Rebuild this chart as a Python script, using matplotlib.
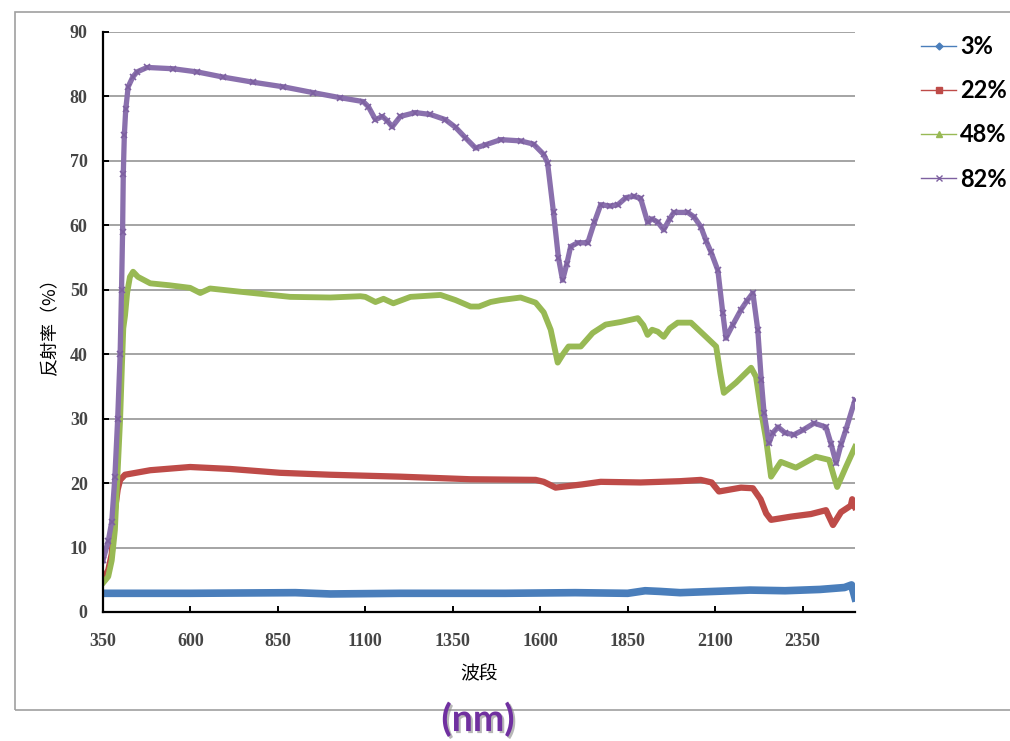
import matplotlib
matplotlib.use("Agg")
import matplotlib.pyplot as plt
import matplotlib.patheffects as pe
from matplotlib.lines import Line2D
from matplotlib.patches import Rectangle

plt.rcParams['font.family'] = ['Noto Sans CJK SC', 'DejaVu Sans']

# 3%
wl_3 = [350, 600, 900, 1000, 1200, 1500, 1700, 1850, 1900, 1940, 2000, 2100,
        2200, 2300, 2400, 2470, 2490, 2500]
r_3 = [2.9, 2.9, 3.0, 2.8, 2.9, 2.9, 3.0, 2.9, 3.3, 3.2, 3.0, 3.2,
       3.4, 3.3, 3.5, 3.8, 4.2, 2.2]

# 22%
wl_22 = [350, 365, 375, 384, 392, 399, 413, 485, 599, 713, 856, 999, 1200,
         1400, 1587, 1610, 1644, 1673, 1720, 1773, 1887, 2000, 2059, 2090,
         2111, 2174, 2208, 2230, 2246, 2260, 2317, 2374, 2417, 2437, 2460,
         2488, 2492, 2500]
r_22 = [5, 6.5, 9, 15.8, 19, 20.5, 21.3, 22, 22.5, 22.2, 21.6, 21.3, 21,
        20.6, 20.5, 20.2, 19.3, 19.5, 19.8, 20.2, 20.1, 20.3, 20.5, 20.1,
        18.7, 19.3, 19.2, 17.5, 15.3, 14.3, 14.8, 15.2, 15.8, 13.5, 15.5,
        16.5, 17.5, 16.3]

# 48%
wl_48 = [350, 365, 375, 384, 392, 399, 404, 408, 413, 419, 427, 436, 450,
         485, 540, 599, 628, 656, 742, 885, 1000, 1086, 1100, 1129, 1152,
         1180, 1229, 1315, 1358, 1401, 1425, 1458, 1487, 1544, 1587, 1610,
         1630, 1650, 1665, 1681, 1716, 1750, 1787, 1830, 1879, 1895, 1907,
         1920, 1936, 1953, 1970, 1993, 2031, 2074, 2103, 2115, 2125, 2160,
         2203, 2217, 2232, 2246, 2260, 2288, 2331, 2388, 2426, 2440, 2449,
         2474, 2500]
r_48 = [4.5, 5.5, 8, 12.7, 22, 30, 38, 44, 46, 49.5, 52, 52.8, 52, 51, 50.7,
        50.3, 49.5, 50.2, 49.7, 48.9, 48.8, 49, 48.9, 48.1, 48.6, 47.9, 48.9,
        49.2, 48.4, 47.4, 47.4, 48.1, 48.4, 48.8, 48, 46.5, 43.8, 38.7, 40,
        41.2, 41.2, 43.3, 44.6, 45, 45.6, 44.5, 43, 43.8, 43.5, 42.7, 44,
        44.9, 44.9, 42.7, 41.2, 37, 34, 35.6, 37.9, 36.5, 31, 26.7, 21, 23.3,
        22.4, 24.1, 23.6, 21, 19.4, 22.5, 25.6]

# 82%
wl_82 = [350, 365, 375, 384, 392, 399, 403, 406, 408, 411, 415, 422, 435,
         447, 476, 550, 620, 694, 780, 865, 950, 1029, 1094, 1109, 1129, 1149,
         1163, 1177, 1200, 1243, 1286, 1329, 1358, 1386, 1415, 1444, 1487,
         1544, 1581, 1610, 1621, 1638, 1652, 1664, 1676, 1687, 1707, 1736,
         1755, 1773, 1800, 1822, 1845, 1867, 1887, 1907, 1920, 1936, 1953,
         1970, 1982, 2022, 2040, 2059, 2075, 2088, 2108, 2122, 2131, 2150,
         2174, 2190, 2208, 2222, 2232, 2240, 2254, 2265, 2280, 2300, 2325,
         2350, 2383, 2417, 2432, 2446, 2460, 2474, 2500]
r_82 = [8, 11, 14, 21, 30, 40, 50, 59, 68, 74, 78, 81.5, 83, 83.8, 84.5,
        84.3, 83.8, 83, 82.2, 81.5, 80.6, 79.8, 79.2, 78.4, 76.4, 76.9, 76.2,
        75.3, 76.9, 77.5, 77.2, 76.4, 75.2, 73.6, 72, 72.5, 73.3, 73.1, 72.6,
        71, 69.7, 62, 55, 51.5, 54, 56.7, 57.3, 57.3, 60.5, 63.2, 63, 63.2,
        64.3, 64.5, 64.2, 60.5, 61, 60.5, 59.3, 61, 62, 62, 61.3, 59.8, 57.5,
        55.9, 53, 46.4, 42.5, 44.5, 46.9, 48.2, 49.5, 43.8, 36, 30.9, 26.2,
        27.8, 28.7, 27.8, 27.5, 28.2, 29.3, 28.7, 26, 23.1, 26, 28.3, 32.9]

labels = ['3%', '22%', '48%', '82%']
colors = ['#4A7EBB', '#BE4B48', '#98B954', '#7D60A0']
xticks = [350, 600, 850, 1100, 1350, 1600, 1850, 2100, 2350]

fig = plt.figure(figsize=(10.10, 7.41), dpi=100)
ax = fig.add_axes([103 / 1010, 1 - 612 / 741, 752 / 1010, 580 / 741])

ax.plot(wl_3, r_3, color=colors[0], lw=5.5, solid_joinstyle='round')
ax.plot(wl_22, r_22, color=colors[1], lw=4.5, solid_joinstyle='round')
ax.plot(wl_48, r_48, color=colors[2], lw=4.2, solid_joinstyle='round')
ax.plot(wl_82, r_82, color='#8A70AD', lw=3.8, marker='x', ms=5, mew=1.2,
        mec=colors[3], solid_joinstyle='round')

ax.set_xlim(350, 2500)
ax.set_ylim(0, 90)
ax.set_xticks(xticks)
ax.set_yticks(range(0, 91, 10))
ax.yaxis.grid(True, color='#8c8c8c', lw=1.1)
ax.set_axisbelow(True)
for s in ['top', 'right']:
    ax.spines[s].set_visible(False)
for s in ['left', 'bottom']:
    ax.spines[s].set_linewidth(1.6)
ax.tick_params(direction='in', length=4, width=1.4, colors='black')
ax.tick_params(axis='x', pad=15)
ax.tick_params(axis='y', pad=11)
for lab in ax.get_xticklabels() + ax.get_yticklabels():
    lab.set_fontfamily('Liberation Serif')
    lab.set_fontsize(13)
    lab.set_fontweight('bold')
    lab.set_color('#454545')

ax.set_ylabel('反射率（%）', fontsize=13)
ax.yaxis.set_label_coords(-0.058, 0.5)
ax.set_xlabel('波段', fontsize=13.5)
ax.xaxis.set_label_coords(0.5, -0.088)

markers = ['D', 's', '^', 'x']
sizes = [3.5, 5, 5, 5]
handles = [Line2D([], [], color=c, lw=1.0, marker=m, ms=ms, mew=1)
           for c, m, ms in zip(colors, markers, sizes)]
leg = ax.legend(handles, labels, loc='upper left', frameon=False,
                bbox_to_anchor=(921 / 1010, 1 - 35 / 741),
                bbox_transform=fig.transFigure, borderaxespad=0, borderpad=0,
                handlelength=1.5, handletextpad=0.15, labelspacing=0.9,
                prop={'family': 'Lato', 'weight': 'bold', 'size': 17})

# outer frame
fig.patches.append(Rectangle((15 / 1010, 1 - 710 / 741), 1.0, 698 / 741,
                             transform=fig.transFigure, fill=False,
                             edgecolor='#a0a0a0', lw=1.2))

fig.text(478 / 1010, 1 - 719 / 741, '(nm)', ha='center', va='center',
         fontsize=27, fontweight='bold', family='Lato', color='#7030A0',
         path_effects=[pe.withSimplePatchShadow(offset=(1.5, -1.5),
                                                shadow_rgbFace='#888888',
                                                alpha=0.6)])

fig.savefig('out.png', dpi=100)
